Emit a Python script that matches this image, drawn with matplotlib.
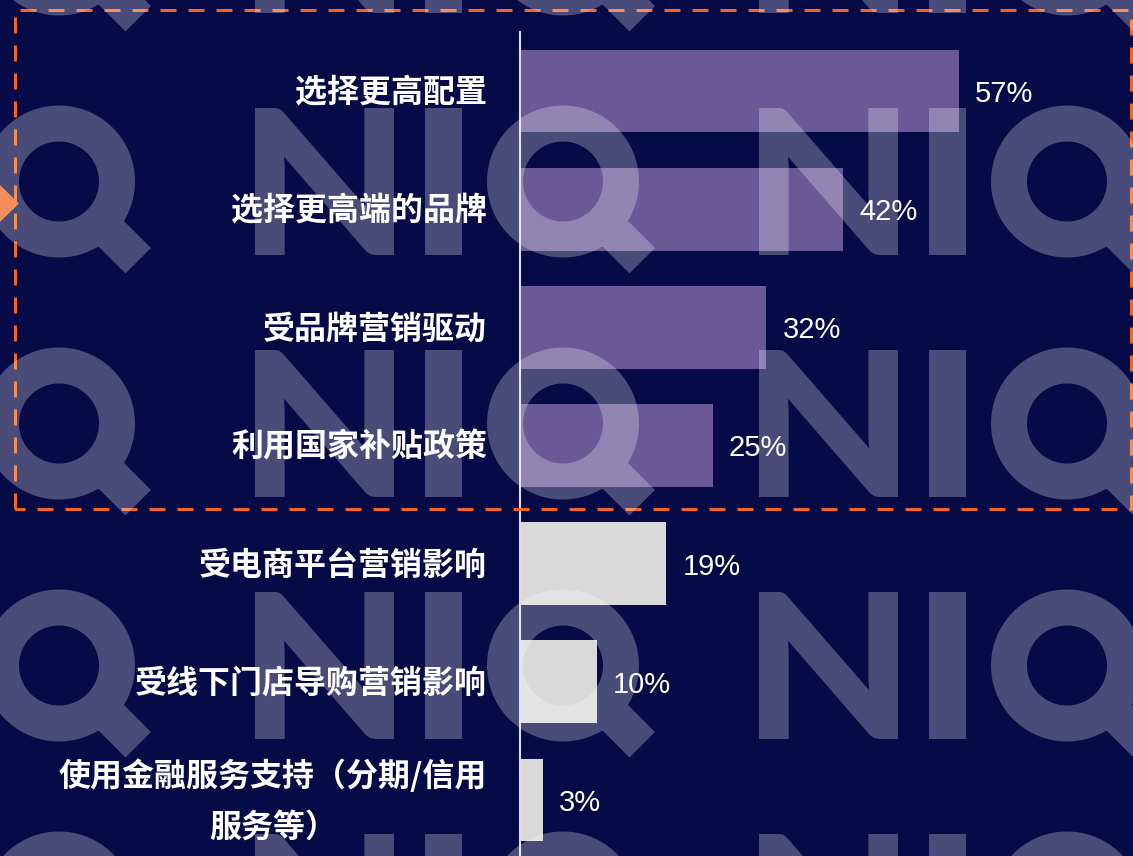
import numpy as np
import matplotlib
matplotlib.use("Agg")
import matplotlib.pyplot as plt
from matplotlib import font_manager as fm
from matplotlib.textpath import TextPath
from matplotlib.path import Path
from matplotlib.patches import PathPatch, Polygon
from matplotlib.transforms import Affine2D, blended_transform_factory, offset_copy

# ---------------- data ----------------
categories = ["选择更高配置", "选择更高端的品牌", "受品牌营销驱动", "利用国家补贴政策",
              "受电商平台营销影响", "受线下门店导购营销影响", "使用金融服务支持（分期/信用\n服务等）"]
values = [57, 42, 32, 25, 19, 10, 3]
highlight = [True, True, True, True, False, False, False]

# ---------------- style ----------------
BG = "#060a46"
PURPLE = "#695a97"
GREY = "#d9d9d9"
ORANGE = "#f26522"
W, H = 1133, 856

fig = plt.figure(figsize=(W / 100, H / 100), dpi=100, facecolor=BG)

# main bar axes (pixel layout)
ax_left, ax_top = 520, 32
ax = fig.add_axes([ax_left / W, 0, (W - ax_left) / W, (H - ax_top) / H], zorder=0)
ax.set_facecolor("none")
ypos = list(range(len(categories)))
colors = [PURPLE if h else GREY for h in highlight]
ax.barh(ypos, values, height=0.70, color=colors, zorder=2)
ax.set_xlim(0, (W - ax_left) / 7.70)
ax.set_ylim(6.475, -0.5)
for s in ["top", "right", "bottom"]:
    ax.spines[s].set_visible(False)
ax.spines["left"].set_color("#dcdce6")
ax.spines["left"].set_linewidth(1.5)
ax.set_xticks([])
ax.set_yticks([])

# overlay axes in pixel coordinates (decoration: frame, marker, watermark)
ov = fig.add_axes([0, 0, 1, 1], zorder=1)
ov.set_xlim(0, W)
ov.set_ylim(H, 0)
ov.axis("off")
ov.set_facecolor("none")

# dashed highlight frame
fx0, fx1, fy0, fy1 = 15, 1131, 10, 509
lw_px = 3
ov.plot([fx0, fx0, fx1, fx1, fx0], [fy1, fy0, fy0, fy1, fy1], color=ORANGE,
        lw=lw_px * 0.72, dashes=(16 / lw_px, 12 / lw_px), solid_capstyle="butt",
        dash_capstyle="butt", zorder=2)
# orange marker triangle
ov.add_patch(Polygon([[0, 185], [19, 203.5], [0, 222]], closed=True, color=ORANGE, lw=0, zorder=2))

# watermark "NIQ"
fp = fm.FontProperties(family=["Lato", "Roboto", "DejaVu Sans"], weight="black")
boxes = {"N": (255, 394, 108, 255), "I": (425, 462, 108, 255)}


def ring_q_path(cx, cy, R=76, r=40, t0=50, t1=112, hw=18):
    th = np.linspace(0, 2 * np.pi, 240, endpoint=False)
    outer = np.c_[cx + R * np.cos(th), cy + R * np.sin(th)]
    inner = np.c_[cx + r * np.cos(th), cy + r * np.sin(th)][::-1]
    u = np.array([1, 1]) / np.sqrt(2)
    n = np.array([-1, 1]) / np.sqrt(2)
    c = np.array([cx, cy])
    tail = np.array([c + t0 * u - hw * n, c + t1 * u - hw * n, c + t1 * u + hw * n, c + t0 * u + hw * n])
    x, y = tail[:, 0], tail[:, 1]
    area = 0.5 * np.sum(x * np.roll(y, -1) - np.roll(x, -1) * y)
    if area < 0:
        tail = tail[::-1]
    verts, codes = [], []
    for poly in (outer, inner, tail):
        verts += list(poly) + [poly[0]]
        codes += [Path.MOVETO] + [Path.LINETO] * (len(poly) - 1) + [Path.CLOSEPOLY]
    return Path(np.array(verts), codes)


for row in range(-1, 4):
    dy = row * 242
    for col in range(-1, 2):
        dx = col * 504
        for ch, (x0, x1, y0, y1) in boxes.items():
            tp = TextPath((0, 0), ch, prop=fp, size=100)
            ex = tp.get_extents()
            sx = (x1 - x0) / ex.width
            sy = (y1 - y0) / ex.height
            tr = Affine2D().translate(-ex.x0, -ex.y0).scale(sx, -sy).translate(x0 + dx, y1 + dy)
            ov.add_patch(PathPatch(tr.transform_path(tp), facecolor="white", edgecolor="none",
                                   alpha=0.27, zorder=5))
        ov.add_patch(PathPatch(ring_q_path(563 + dx, 181.5 + dy), facecolor="white",
                               edgecolor="none", alpha=0.27, zorder=5))

# category labels (drawn at figure level, above watermark)
lab_tr = offset_copy(blended_transform_factory(ax.transAxes, ax.transData), fig=fig, x=-33, y=-2, units="dots")
for i, c in enumerate(categories):
    fig.text(0, i, c, transform=lab_tr, ha="right", va="center", multialignment="center",
             color="white", fontsize=23, fontweight="bold", linespacing=1.75,
             family=["Noto Sans CJK SC", "DejaVu Sans"], zorder=10)

# value labels
val_tr = offset_copy(ax.transData, fig=fig, x=16, y=0, units="dots")
for i, v in enumerate(values):
    fig.text(v, i, f"{v}%", transform=val_tr, ha="left", va="center_baseline",
             color="white", fontsize=21, family=["Liberation Sans", "DejaVu Sans"], zorder=10)

fig.savefig("out.png", dpi=100, facecolor=BG)
